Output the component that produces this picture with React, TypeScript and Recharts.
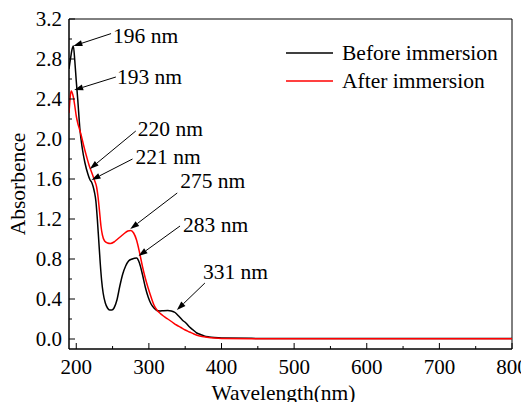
import React from "react";
import {
  LineChart,
  Line,
  XAxis,
  YAxis,
  ReferenceArea,
  ReferenceDot,
  Legend,
  Label,
} from "recharts";

// UV-Vis absorbance spectra
const wavelengthBefore = [
  190, 192, 194, 196, 198, 200, 202, 205, 208, 212,
  216, 219, 221, 223, 225, 227, 229, 231, 233, 235,
  237, 240, 243, 246, 249, 252, 256, 260, 264, 268,
  272, 277, 283, 287, 291, 295, 299, 303, 307, 311,
  315, 320, 326, 331, 336, 341, 346, 351, 356, 361,
  366, 371, 376, 383, 390, 400, 450, 500, 600, 700,
  800,
];
const absorbanceBefore = [
  2.70, 2.80, 2.89, 2.93, 2.78, 2.58, 2.40, 2.10, 1.92, 1.76,
  1.65, 1.59, 1.57, 1.53, 1.47, 1.38, 1.20, 0.98, 0.76, 0.58,
  0.46, 0.36, 0.31, 0.29, 0.29, 0.31, 0.39, 0.53, 0.65, 0.73,
  0.78, 0.80, 0.81, 0.76, 0.65, 0.52, 0.42, 0.35, 0.31, 0.285,
  0.28, 0.283, 0.285, 0.28, 0.265, 0.23, 0.19, 0.16, 0.12, 0.09,
  0.06, 0.045, 0.03, 0.02, 0.014, 0.009, 0.006, 0.005, 0.004, 0.004,
  0.004,
];

const wavelengthAfter = [
  190, 191, 192, 193, 194, 196, 198, 200, 202, 204,
  207, 210, 214, 218, 220, 222, 225, 228, 230, 232,
  234, 236, 239, 243, 247, 252, 257, 262, 267, 271,
  275, 279, 283, 287, 291, 295, 299, 303, 307, 311,
  315, 320, 326, 332, 338, 344, 350, 356, 362, 370,
  380, 390, 400, 450, 500, 600, 700, 800,
];
const absorbanceAfter = [
  2.26, 2.36, 2.44, 2.48, 2.47, 2.42, 2.33, 2.23, 2.16, 2.11,
  2.03, 1.94, 1.83, 1.73, 1.69, 1.65, 1.59, 1.52, 1.42, 1.28,
  1.13, 1.04, 0.98, 0.96, 0.955, 0.97, 1.00, 1.03, 1.06, 1.08,
  1.085, 1.06, 0.99, 0.87, 0.73, 0.61, 0.51, 0.42, 0.34, 0.29,
  0.26, 0.23, 0.20, 0.17, 0.14, 0.115, 0.09, 0.07, 0.05, 0.03,
  0.018, 0.01, 0.006, 0.003, 0.002, 0.002, 0.002, 0.002,
];

const seriesNames = ["Before immersion", "After immersion"];

const xTicks = [200, 250, 300, 350, 400, 450, 500, 550, 600, 650, 700, 750, 800];
const yTicks = [0, 0.2, 0.4, 0.6, 0.8, 1.0, 1.2, 1.4, 1.6, 1.8, 2.0, 2.2, 2.4, 2.6, 2.8, 3.0, 3.2];

// Peak annotations: wavelength and which spectrum it belongs to
const peakWavelengths = [196, 193, 220, 221, 275, 283, 331];
const peakSeries = ["before", "after", "after", "before", "after", "before", "before"];

// Arrow placement in pixels: tip nudge, tail offset and text offset relative to the tip
const peakLayout = [
  { nx: 0, ny: 0, tx: 37.7, ty: -12.4, lx: 39.7, ly: -9.7 },
  { nx: 3, ny: -1, tx: 41.7, ty: -13, lx: 42.7, ly: -13 },
  { nx: -1, ny: -1, tx: 46, ty: -38, lx: 48, ly: -40 },
  { nx: 0, ny: -2, tx: 41, ty: -21, lx: 44, ly: -23 },
  { nx: -0.5, ny: -1.5, tx: 47, ty: -36, lx: 50, ly: -48 },
  { nx: 2, ny: -2, tx: 41.5, ty: -30, lx: 44.5, ly: -31 },
  { nx: 5.5, ny: -1, tx: 28, ty: -27, lx: 26, ly: -38 },
];

const FONT = "'Liberation Serif', 'Times New Roman', serif";
const textStyle = { fontFamily: FONT };

const beforeData = wavelengthBefore.map((wl, i) => ({ wl, a: absorbanceBefore[i] }));
const afterData = wavelengthAfter.map((wl, i) => ({ wl, a: absorbanceAfter[i] }));

const valueAt = (series: string, wl: number) => {
  const xs = series === "before" ? wavelengthBefore : wavelengthAfter;
  const ys = series === "before" ? absorbanceBefore : absorbanceAfter;
  return ys[xs.indexOf(wl)];
};

const XTick = (props: any) => {
  const { x, y, payload } = props;
  const v = payload.value;
  const major = v % 100 === 0;
  return (
    <g>
      <line x1={x} x2={x} y1={y} y2={y - (major ? 6 : 3)} stroke="#000" strokeWidth={1} />
      {major && (
        <text x={x} y={y + 24.5} textAnchor="middle" style={textStyle} fontSize={21} fill="#000">
          {v}
        </text>
      )}
    </g>
  );
};

const YTick = (props: any) => {
  const { x, y, payload } = props;
  const v = payload.value;
  const major = Math.round(v * 10) % 4 === 0;
  return (
    <g>
      <line x1={x} x2={x + (major ? 6 : 3)} y1={y} y2={y} stroke="#000" strokeWidth={1} />
      {major && (
        <text x={x - 7} y={y + 7} textAnchor="end" style={textStyle} fontSize={21} fill="#000">
          {v.toFixed(1)}
        </text>
      )}
    </g>
  );
};

const makeArrow = (text: string, layout: any) => (props: any) => {
  const { cx, cy } = props;
  const px = cx + layout.nx;
  const py = cy + layout.ny;
  const qx = px + layout.tx;
  const qy = py + layout.ty;
  const len = Math.hypot(qx - px, qy - py);
  const ux = (qx - px) / len;
  const uy = (qy - py) / len;
  const hl = 9;
  const hw = 3;
  const bx = px + ux * hl;
  const by = py + uy * hl;
  const head = `${px},${py} ${bx - uy * hw},${by + ux * hw} ${bx + uy * hw},${by - ux * hw}`;
  return (
    <g>
      <line x1={bx} y1={by} x2={qx} y2={qy} stroke="#000" strokeWidth={1} />
      <polygon points={head} fill="#000" />
      <text x={px + layout.lx} y={py + layout.ly + 7} style={textStyle} fontSize={21.5} fill="#000">
        {text}
      </text>
    </g>
  );
};

const LegendBox = () => (
  <svg width={230} height={60} style={{ display: "block" }}>
    {seriesNames.map((name, i) => (
      <g key={name}>
        <line
          x1={0}
          x2={47}
          y1={14 + i * 28}
          y2={14 + i * 28}
          stroke={i === 0 ? "#000" : "#ff0000"}
          strokeWidth={1.5}
        />
        <text x={56} y={21 + i * 28} style={textStyle} fontSize={21.5} fill="#000">
          {name}
        </text>
      </g>
    ))}
  </svg>
);

export default function App() {
  return (
    <LineChart width={521} height={394} margin={{ top: 11, right: 17, left: 0, bottom: 0 }}>
      <XAxis
        dataKey="wl"
        type="number"
        domain={[190, 800]}
        ticks={xTicks}
        interval={0}
        allowDataOverflow
        height={53}
        tickSize={0}
        tickMargin={0}
        tick={<XTick />}
        tickLine={false}
        axisLine={{ stroke: "#000", strokeWidth: 1 }}
      >
        <Label
          content={() => (
            <text x={275.5} y={392} textAnchor="middle" style={textStyle} fontSize={21.5} fill="#000">
              Wavelength(nm)
            </text>
          )}
        />
      </XAxis>
      <YAxis
        type="number"
        domain={[-0.1, 3.2]}
        ticks={yTicks}
        interval={0}
        allowDataOverflow
        width={61}
        tickSize={0}
        tickMargin={0}
        tick={<YTick />}
        tickLine={false}
        axisLine={{ stroke: "#000", strokeWidth: 1 }}
      >
        <Label
          content={() => (
            <text
              x={17}
              y={176}
              transform="rotate(-90 17 176)"
              textAnchor="middle"
              style={textStyle}
              fontSize={21.5}
              fill="#000"
            >
              Absorbence
            </text>
          )}
        />
      </YAxis>
      <ReferenceArea
        x1={190}
        x2={800}
        y1={-0.1}
        y2={3.2}
        fill="none"
        stroke="#000"
        strokeWidth={1}
        ifOverflow="visible"
      />
      <Line
        data={beforeData}
        dataKey="a"
        name={seriesNames[0]}
        type="monotone"
        stroke="#000"
        strokeWidth={1.5}
        dot={false}
        isAnimationActive={false}
      />
      <Line
        data={afterData}
        dataKey="a"
        name={seriesNames[1]}
        type="monotone"
        stroke="#ff0000"
        strokeWidth={1.5}
        dot={false}
        isAnimationActive={false}
      />
      {peakWavelengths.map((wl, i) => (
        <ReferenceDot
          key={`${wl}-${i}`}
          x={wl}
          y={valueAt(peakSeries[i], wl)}
          r={1}
          ifOverflow="visible"
          shape={makeArrow(`${wl} nm`, peakLayout[i])}
        />
      ))}
      <Legend
        layout="horizontal"
        verticalAlign="middle"
        align="center"
        content={() => <LegendBox />}
        wrapperStyle={{ position: "absolute", left: 278, top: 31, width: 230, height: 60 }}
      />
    </LineChart>
  );
}
